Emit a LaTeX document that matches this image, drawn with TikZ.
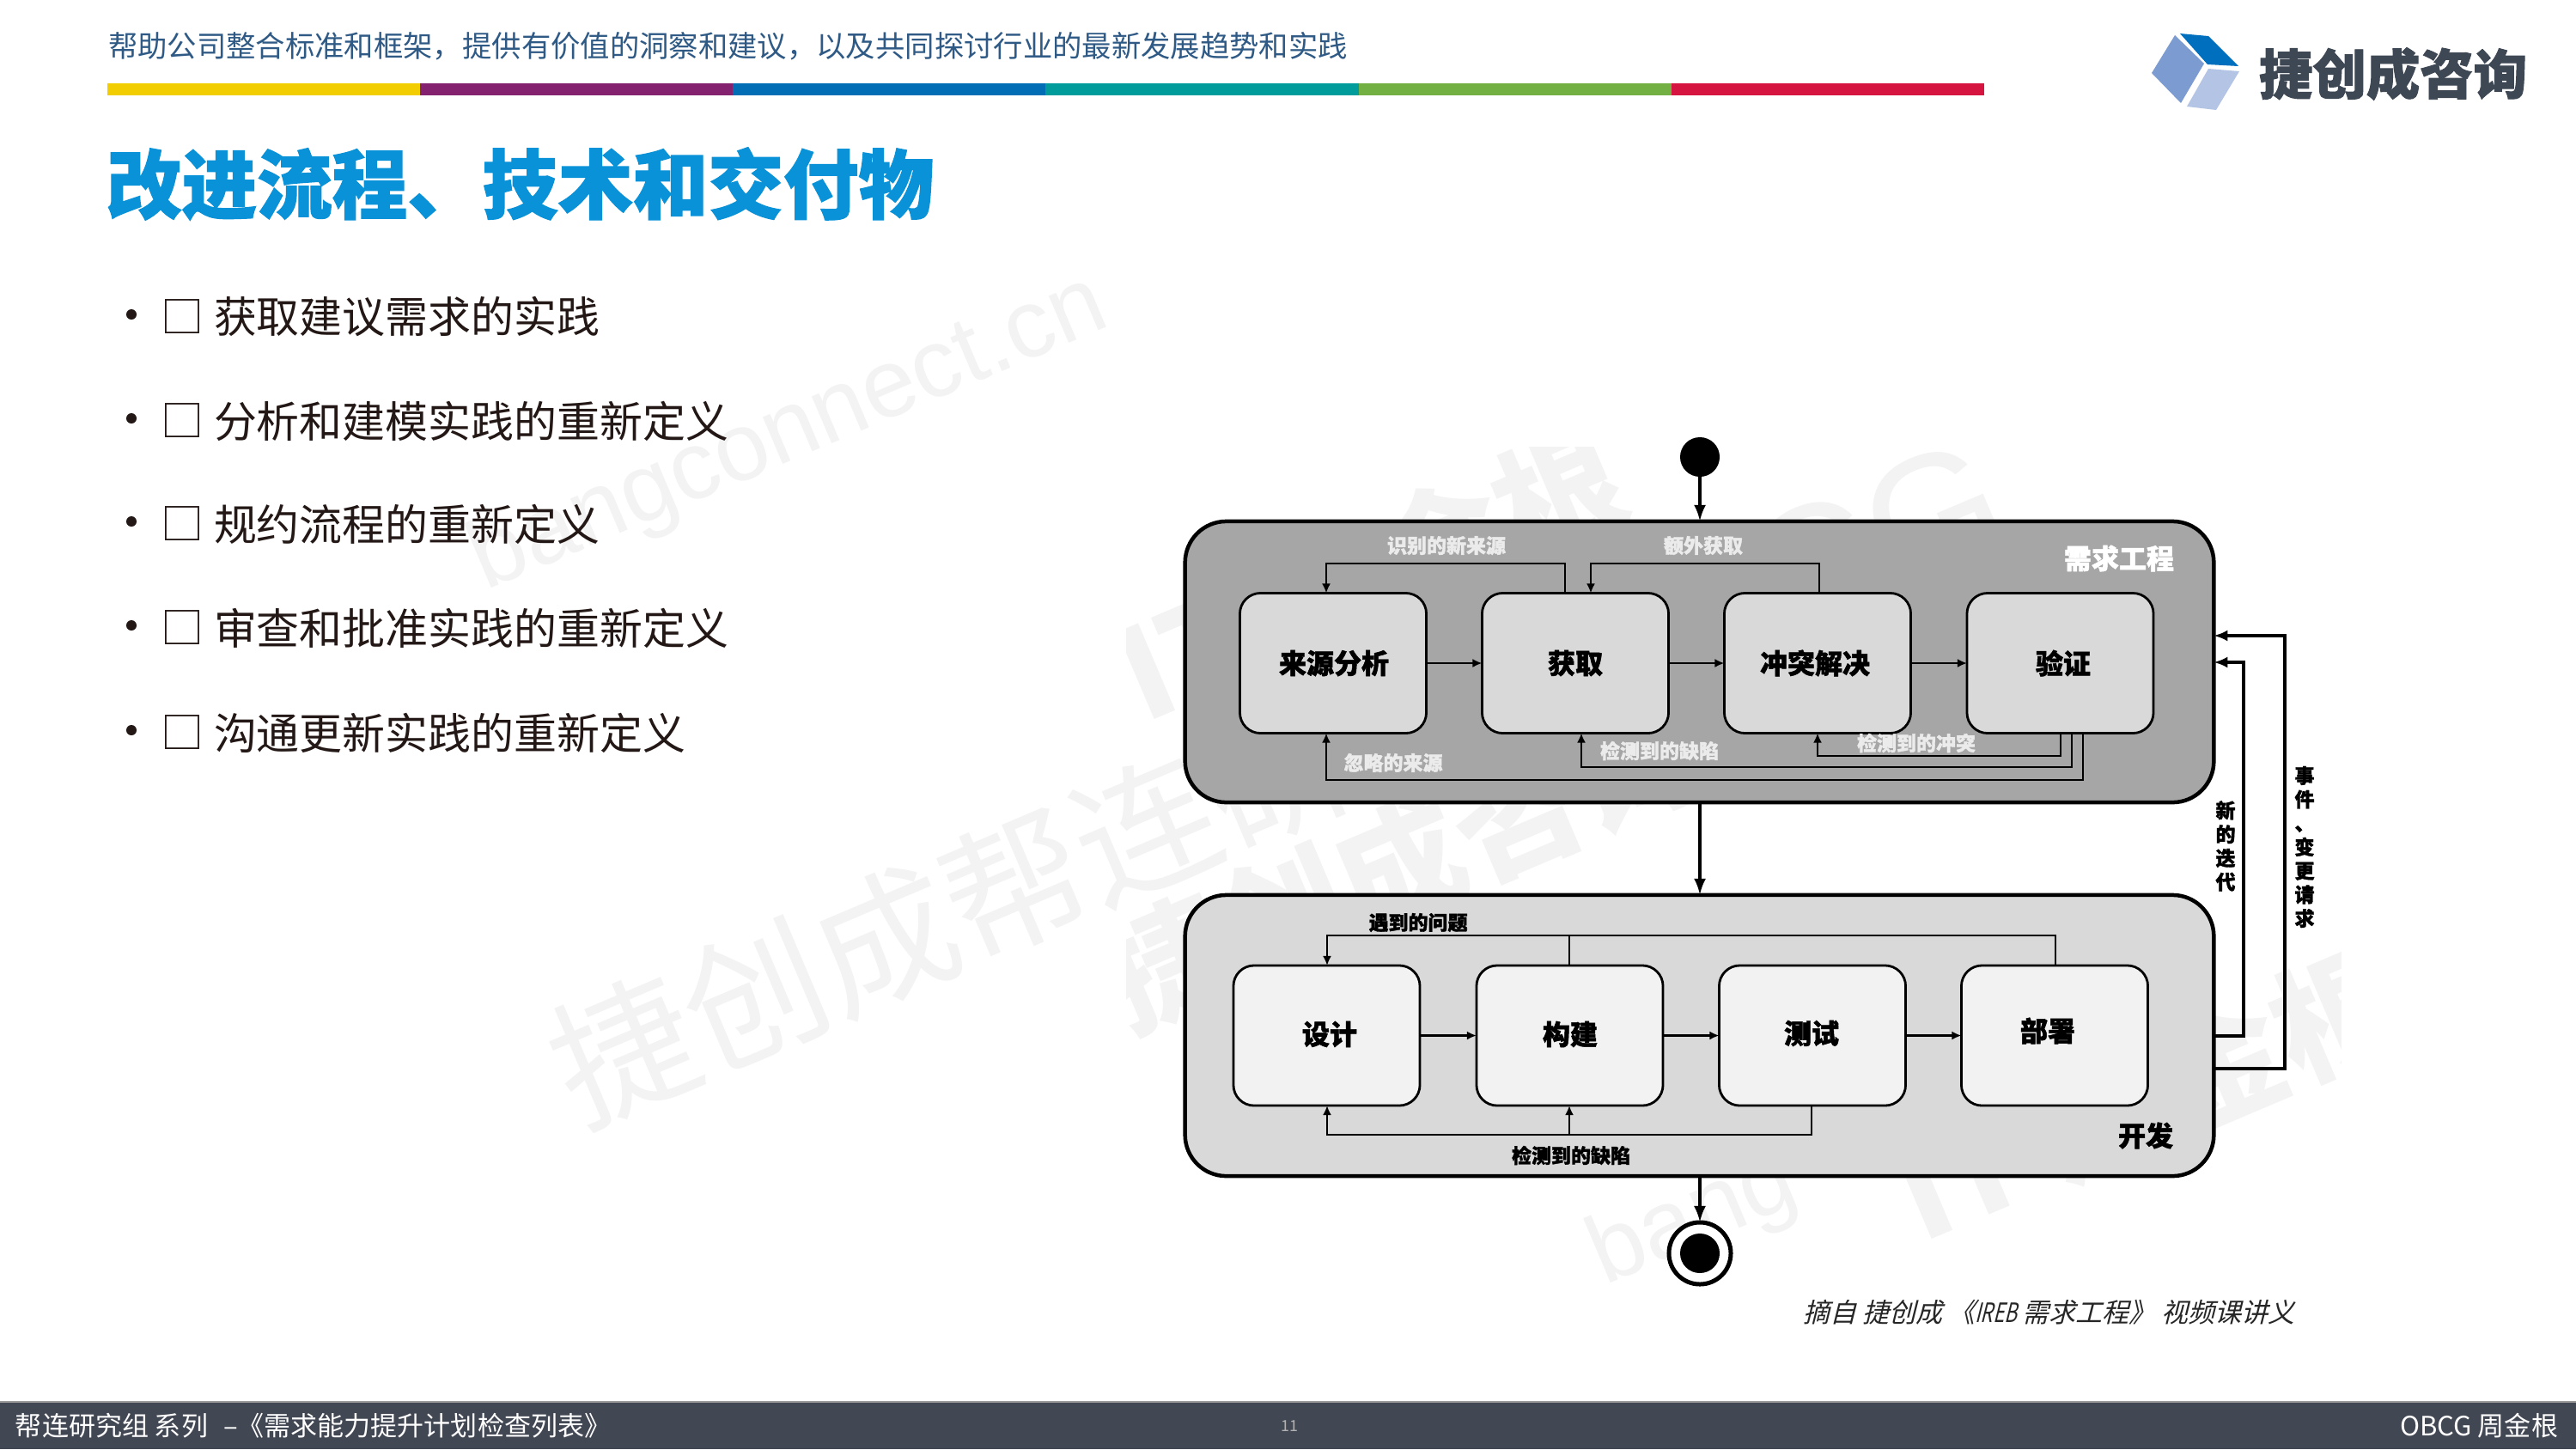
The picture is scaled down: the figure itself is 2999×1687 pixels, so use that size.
\documentclass[tikz,border=0pt]{standalone}
\usepackage{fontspec}
\setmainfont{Noto Sans CJK SC}
\newfontfamily\cjkheavy{Noto Sans CJK SC}[BoldFeatures={FakeBold=1.5}]
\newfontfamily\cjkslant{Noto Sans CJK SC}[FakeSlant=0.25]
\newfontfamily\wmlatin{Liberation Sans}
\usetikzlibrary{arrows.meta}
\definecolor{hdrblue}{HTML}{2F5A85}
\definecolor{titleblue}{HTML}{0A92D8}
\definecolor{bodyink}{HTML}{231815}
\definecolor{footbg}{HTML}{424754}
\definecolor{logoink}{HTML}{3E4754}
\definecolor{wmgray}{HTML}{F3F3F3}
\tikzset{
  x=0.01cm,y=-0.01cm,
  txt/.style={inner sep=0,outer sep=0},
  wm/.style={txt,text=wmgray,rotate=23},
  wmthin/.style={wm,font=\fontsize{46.9}{46.9}\selectfont},
  wmbig/.style={wm,font=\bfseries\fontsize{42}{42}\selectfont},
  wmlat/.style={wm,font=\wmlatin\fontsize{31.9}{31.9}\selectfont},
  bulletline/.style={txt,anchor=west,text=bodyink,font=\fontsize{14.2}{14.2}\selectfont},
  bulletbox/.style={txt,text=bodyink,font=\fontsize{14.2}{14.2}\selectfont},
  bulletdot/.style={circle,fill=bodyink,inner sep=0,outer sep=0,minimum size=0.12cm},
  barseg/.style={draw=none},
  group/.style={draw=black,rounded corners=0.48cm,line width=0.045cm,outer sep=0,inner sep=0,minimum width=11.97cm,minimum height=3.27cm},
  stage/.style={draw=black,rounded corners=0.24cm,line width=0.028cm,outer sep=0,inner sep=0,minimum width=2.17cm,minimum height=1.63cm},
  stagename/.style={txt,text=black,font=\cjkheavy\bfseries\fontsize{9.1}{9.1}\selectfont},
  grouptitle/.style={txt,font=\cjkheavy\bfseries\fontsize{9.1}{9.1}\selectfont},
  edgelabel/.style={txt,font=\cjkheavy\bfseries\fontsize{6.54}{6.54}\selectfont},
  stacklabel/.style={txt,align=center,text=black,font=\cjkheavy\bfseries\fontsize{6.54}{7.88}\selectfont},
  flow/.style={draw=black,line width=0.022cm,-{Latex[length=0.11cm,width=0.10cm]}},
  plain/.style={draw=black,line width=0.022cm},
  bigflow/.style={draw=black,line width=0.036cm,-{Latex[length=0.19cm,width=0.14cm]}},
  backflow/.style={draw=black,line width=0.045cm,-{Latex[length=0.16cm,width=0.13cm]}}
}
\begin{document}
\begin{tikzpicture}
\useasboundingbox (0,0) rectangle (2999,1687);
\fill[white] (0,0) rectangle (2999,1687);

% slide watermarks
\node[wmlat] (wmA) at (919,506) {bangconnect.cn};
\node[wmthin,anchor=west] (wmB) at (650,1255) {捷创成帮连研究组};
\begin{scope}
\clip (1311,520) rectangle (2725,1500);
\node[wmbig,anchor=west] (wmC) at (1310,790) {IT 周金根};
\node[wmbig,anchor=west] (wmD) at (1290,1150) {捷创成咨询};
\node[wm,anchor=west,font=\wmlatin\fontsize{56.9}{56.9}\selectfont] (wmE) at (1780,800) {OBCG};
\node[wmbig,anchor=west] (wmF) at (2215,1395) {IT 周金根};
\node[wmlat,anchor=west] (wmG) at (1857,1470) {bang};
\end{scope}

% header
\node[txt,anchor=west,text=hdrblue,font=\fontsize{9.77}{9.77}\selectfont] (hdr) at (126,54) {帮助公司整合标准和框架，提供有价值的洞察和建议，以及共同探讨行业的最新发展趋势和实践};
\fill[barseg,fill={rgb,255:red,242;green,206;blue,0}] (125,97) rectangle (489,111);
\fill[barseg,fill={rgb,255:red,133;green,34;blue,111}] (489,97) rectangle (853,111);
\fill[barseg,fill={rgb,255:red,0;green,109;blue,181}] (853,97) rectangle (1217,111);
\fill[barseg,fill={rgb,255:red,0;green,155;blue,155}] (1217,97) rectangle (1582,111);
\fill[barseg,fill={rgb,255:red,114;green,176;blue,67}] (1582,97) rectangle (1946,111);
\fill[barseg,fill={rgb,255:red,213;green,20;blue,63}] (1946,97) rectangle (2310,111);

% logo
\fill[fill={rgb,255:red,123;green,155;blue,209}] (2532,41) -- (2566,74) -- (2539,120) -- (2505,85) -- cycle;
\fill[fill={rgb,255:red,0;green,112;blue,190}] (2538,39) -- (2571,42) -- (2606,77) -- (2570,75) -- cycle;
\fill[fill={rgb,255:red,180;green,196;blue,229}] (2571,80) -- (2607,83) -- (2580,128) -- (2546,124) -- cycle;
\node[txt,anchor=west,text=logoink,font=\cjkheavy\bfseries\fontsize{17.75}{17.75}\selectfont] (logotext) at (2630,86) {捷创成咨询};

% title
\node[txt,anchor=west,text=titleblue,font=\cjkheavy\bfseries\fontsize{24.9}{24.9}\selectfont] (title) at (124,214) {改进流程、技术和交付物};

% bullets
\foreach \yy/\tt/\nm in {369/获取建议需求的实践/a,490/分析和建模实践的重新定义/b,610/规约流程的重新定义/c,731/审查和批准实践的重新定义/d,853/沟通更新实践的重新定义/e}{
  \node[bulletdot] (dot\nm) at (153,\yy-3) {};
  \node[bulletbox] (box\nm) at (212,\yy) {□};
  \node[bulletline] (line\nm) at (249,\yy) {\tt};
}

% diagram
\node[circle,fill=black,inner sep=0,outer sep=0,minimum size=0.46cm] (start) at (1979,532) {};
\node[group,fill={rgb,255:red,166;green,166;blue,166}] (req) at (1978.5,770.5) {};
\node[group,fill={rgb,255:red,217;green,217;blue,217}] (dev) at (1978.5,1205.5) {};
\node[circle,draw=black,fill=white,line width=0.05cm,inner sep=0,outer sep=0,minimum size=0.72cm] (endring) at (1979,1459) {};
\node[circle,fill=black,inner sep=0,outer sep=0,minimum size=0.46cm] (enddot) at (1979,1459) {};

\foreach \cx/\nm/\lab/\lx in {1552/src/来源分析/1553,1834/eli/获取/1834,2116/con/冲突解决/2113,2398.5/val/验证/2402}{
  \node[stage,fill={rgb,255:red,217;green,217;blue,217}] (\nm) at (\cx,772) {};
  \node[stagename] (\nm t) at (\lx,772) {\lab};
}
\foreach \cx/\nm/\lab/\lx/\ly in {1544.5/des/设计/1548/1204,1827.5/bui/构建/1828/1204,2110/tes/测试/2109/1203,2392/dep/部署/2384/1200}{
  \node[stage,fill={rgb,255:red,242;green,242;blue,242}] (\nm) at (\cx,1205.5) {};
  \node[stagename] (\nm t) at (\lx,\ly) {\lab};
}

\node[grouptitle,text=white] (reqt) at (2467,650) {需求工程};
\node[grouptitle,text=black] (devt) at (2498,1322) {开发};

% main flow
\draw[bigflow] (start) -- (req.north -| start);
\draw[bigflow] (req.south -| start) -- (dev.north -| start);
\draw[bigflow] (dev.south -| start) -- (endring.north);

\draw[flow] (src) -- (eli);
\draw[flow] (eli) -- (con);
\draw[flow] (con) -- (val);
\draw[flow] (des) -- (bui);
\draw[flow] (bui) -- (tes);
\draw[flow] (tes) -- (dep);

% requirements loops
\coordinate (r1a) at (1822,656);
\coordinate (r1b) at (1544,656);
\draw[flow] (eli.north -| r1a) -- (r1a) -- (r1b) -- (src.north -| r1b);
\coordinate (r2a) at (2118,656);
\coordinate (r2b) at (1852,656);
\draw[flow] (con.north -| r2a) -- (r2a) -- (r2b) -- (eli.north -| r2b);
\coordinate (r3a) at (2399,880);
\coordinate (r3b) at (2116,880);
\draw[flow] (val.south -| r3a) -- (r3a) -- (r3b) -- (con.south -| r3b);
\coordinate (r4a) at (2412,893);
\coordinate (r4b) at (1841,893);
\draw[flow] (val.south -| r4a) -- (r4a) -- (r4b) -- (eli.south -| r4b);
\coordinate (r5a) at (2425,908);
\coordinate (r5b) at (1544,908);
\draw[flow] (val.south -| r5a) -- (r5a) -- (r5b) -- (src.south -| r5b);

% development loops
\coordinate (d1a) at (2393,1089);
\coordinate (d1b) at (1545,1089);
\coordinate (d1c) at (1827,1089);
\draw[flow] (dep.north -| d1a) -- (d1a) -- (d1b) -- (des.north -| d1b);
\draw[plain] (bui.north -| d1c) -- (d1c);
\coordinate (d2a) at (2109,1321);
\coordinate (d2b) at (1545,1321);
\coordinate (d2c) at (1827,1321);
\draw[flow] (tes.south -| d2a) -- (d2a) -- (d2b) -- (des.south -| d2b);
\draw[flow] (d2c) -- (bui.south -| d2c);

% returns
\coordinate (b1a) at (2612,1206);
\coordinate (b1b) at (2612,771);
\draw[backflow] (dev.east |- b1a) -- (b1a) -- (b1b) -- (req.east |- b1b);
\coordinate (b2a) at (2660,1244);
\coordinate (b2b) at (2660,740);
\draw[backflow] (dev.east |- b2a) -- (b2a) -- (b2b) -- (req.east |- b2b);

% labels
\node[edgelabel,text=white!92!black] (l1) at (1684,635) {识别的新来源};
\node[edgelabel,text=white!92!black] (l2) at (1983,635) {额外获取};
\node[edgelabel,text=white!92!black] (l3) at (1622,888) {忽略的来源};
\node[edgelabel,text=white!92!black] (l4) at (1932,874) {检测到的缺陷};
\node[edgelabel,text=white!92!black] (l5) at (2231,865) {检测到的冲突};
\node[edgelabel,text=black] (l6) at (1651,1074) {遇到的问题};
\node[edgelabel,text=black] (l7) at (1829,1345) {检测到的缺陷};
\node[stacklabel] (l8) at (2591,985) {新\\的\\迭\\代};
\node[stacklabel] (l9) at (2683,986) {事\\件\\、\\变\\更\\请\\求};

% citation
\node[txt,anchor=east,text=black!85,font=\cjkslant\fontsize{8.82}{8.82}\selectfont] (cite) at (2672,1528) {摘自 捷创成 《{\addfontfeature{FakeStretch=0.72}IREB} 需求工程》 视频课讲义};

% footer
\fill[footbg] (0,1632) rectangle (2999,1687);
\draw[line width=0.012cm,black!40] (0,1632) -- (2999,1632);
\node[txt,anchor=west,text=white,font=\fontsize{8.82}{8.82}\selectfont] (footl) at (18,1660) {帮连研究组 系列\hspace{3.2pt} –《需求能力提升计划检查列表》};
\node[txt,text=black!30,font=\fontsize{5.1}{5.1}\selectfont] (footn) at (1501,1660) {11};
\node[txt,anchor=east,text=white,font=\fontsize{8.82}{8.82}\selectfont] (footr) at (2978,1660) {OBCG 周金根};
\end{tikzpicture}
\end{document}
